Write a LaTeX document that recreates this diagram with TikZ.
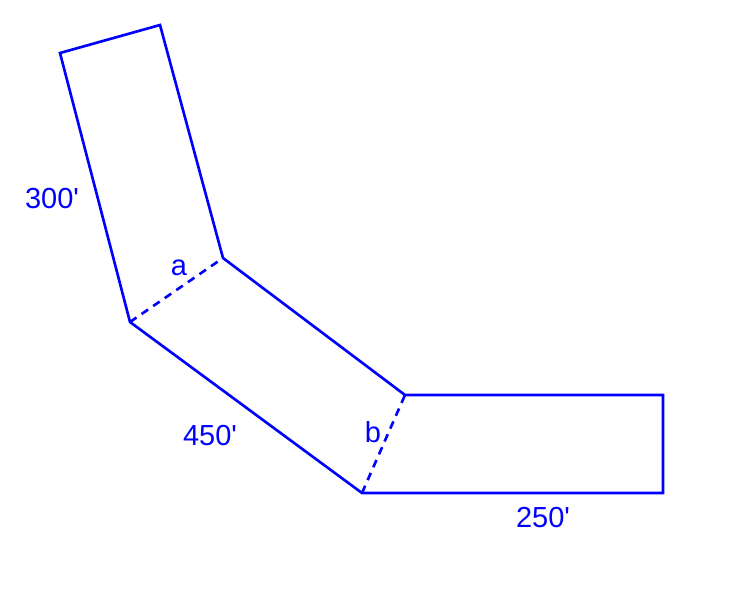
\documentclass[tikz,border=0pt]{standalone}
\usepackage{fontspec}
\setmainfont{Liberation Sans}
\begin{document}
\begin{tikzpicture}[x=0.02cm, y=-0.02cm]

    \tikzset{wall/.style={draw=blue, line width=1.5pt, line join=miter}}
    \tikzset{cut/.style={draw=blue, line width=1.5pt, dash pattern=on 4.5pt off 3.5pt}}
    \tikzset{lbl/.style={text=blue, font=\fontsize{16.5}{19}\selectfont, inner sep=0pt}}

    \useasboundingbox (0,0) rectangle (741,589);

    \coordinate (p1) at ( 60, 53);
    \coordinate (p2) at (160, 25);
    \coordinate (p3) at (223,258);
    \coordinate (p4) at (130,322);
    \coordinate (p5) at (405,395);
    \coordinate (p6) at (663,395);
    \coordinate (p7) at (663,493);
    \coordinate (p8) at (362,493);

    \draw[wall] (p1) -- (p2) -- (p3) -- (p5) -- (p6) -- (p7) -- (p8) -- (p4) -- cycle;

    \draw[cut] (p4) -- (p3);
    \draw[cut] (p8) -- (p5);

    \node[lbl] (l300) at ( 52,199) {300\textquotesingle};
    \node[lbl] (la)   at (179,268) {a};
    \node[lbl] (l450) at (210,436) {450\textquotesingle};
    \node[lbl] (lb)   at (373,432) {b};
    \node[lbl] (l250) at (543,518) {250\textquotesingle};

\end{tikzpicture}
\end{document}
